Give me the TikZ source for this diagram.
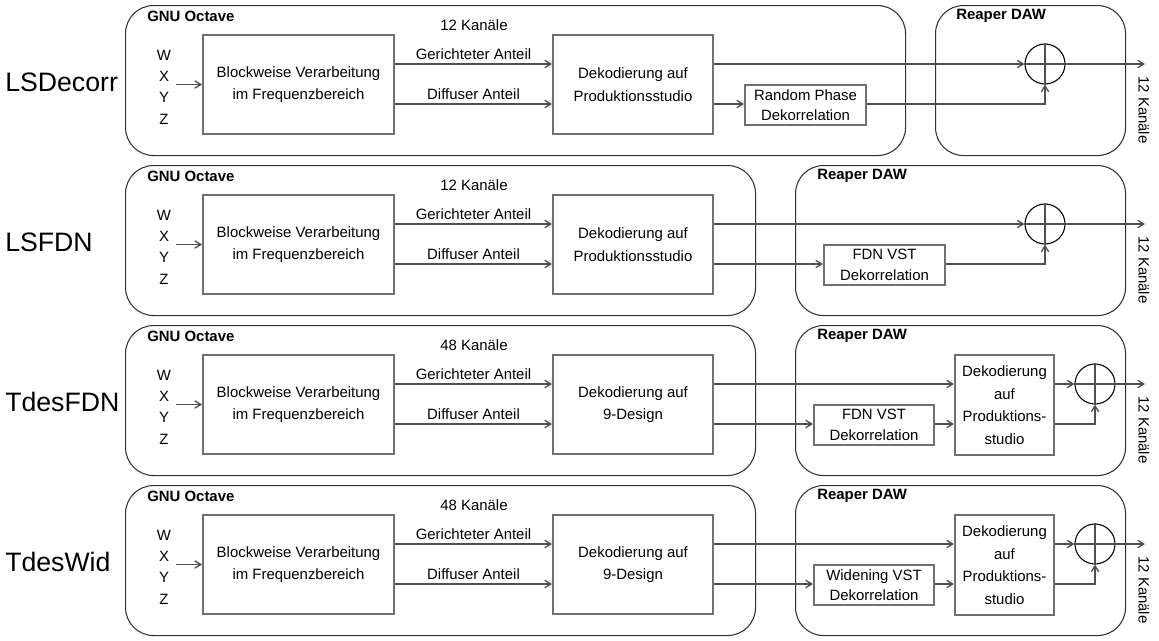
\documentclass[tikz,border=0pt]{standalone}
\usepackage{fontspec}
\setmainfont{Liberation Sans}
\usetikzlibrary{arrows.meta,shapes.geometric}
\definecolor{boxc}{HTML}{707070}
\definecolor{linec}{HTML}{505050}
\definecolor{contc}{HTML}{333333}
\newcommand{\pxu}{0.75pt}
\newcommand{\octavepart}[4]{%
  \coordinate (gy) at (0,64);
  \coordinate (dy) at (0,104);
  \node[rowlab] (lab) at (5,82) {#1};
  \node[cont, anchor=north west, minimum width={(#2-125)*\pxu}, minimum height=150*\pxu] (oct) at (125,5) {};
  \node[ttl] (octt) at (147,16) {GNU Octave};
  \node (ch) at (474,25) {#3};
  \node[align=center, font=\fontsize{11.2}{16}\selectfont] (wxyz) at (164,87) {W\\X\\Y\\Z};
  \node[blk, minimum width=191*\pxu, minimum height=99*\pxu] (blk) at (298.5,84.5) {Blockweise Verarbeitung\\im Frequenzbereich};
  \node[blk, minimum width=160*\pxu, minimum height=99*\pxu] (dek) at (633,84.5) {#4};
  \draw[arr] (wxyz.east |- blk) -- (blk.west);
  \draw[arr] (blk.east |- gy) -- node[lab, above] {Gerichteter Anteil} (dek.west |- gy);
  \draw[arr] (blk.east |- dy) -- node[lab, above] {Diffuser Anteil} (dek.west |- dy);
}
\begin{document}
\begin{tikzpicture}[x=0.75pt,y=-0.75pt,
  font=\fontsize{11.2}{13}\selectfont,
  cont/.style={draw=contc, line width=0.8pt, rounded corners=21pt, inner sep=0pt},
  blk/.style={draw=boxc, line width=1.5pt, align=center, inner sep=0pt, font=\fontsize{11.2}{17}\selectfont},
  small/.style={blk, font=\fontsize{11.2}{15.5}\selectfont},
  arr/.style={draw=linec, line width=1pt, -{Straight Barb[length=4.5pt,width=5.5pt]}},
  ln/.style={draw=linec, line width=1pt},
  sum/.style={draw=black, line width=0.8pt, circle, minimum size=40*0.75pt, inner sep=0pt},
  rowlab/.style={font=\fontsize{20}{24}\selectfont, anchor=west, inner sep=0pt},
  ttl/.style={font=\bfseries\fontsize{11.2}{13}\selectfont, anchor=west, inner sep=0pt},
  lab/.style={inner sep=2.5pt},
]
\useasboundingbox (0,0) rectangle (1159,640);

% Row 1: LSDecorr
\begin{scope}[name prefix=a-]
  \octavepart{LSDecorr}{905}{12 Kanäle}{Dekodierung auf\\Produktionsstudio}
  \node[cont, anchor=north west, minimum width=190*\pxu, minimum height=150*\pxu] (daw) at (935,5) {};
  \node[ttl] (dawt) at (956,16) {Reaper DAW};
  \node[small, minimum width=121*\pxu, minimum height=40*\pxu] (rp) at (805.5,105) {Random Phase\\Dekorrelation};
  \node[sum] (s) at (1045,64) {};
  \coordinate (out) at (1145,64);
  \draw[ln] (s.north) -- (s.south) (s.west) -- (s.east);
  \draw[arr] (dek.east |- gy) -- (s.west);
  \draw[arr] (s.east) -- (out);
  \draw[arr] (dek.east |- dy) -- (rp.west |- dy);
  \draw[arr] (rp.east |- dy) -| (s.south);
  \node[rotate=-90] (kout) at (1144,110) {12 Kanäle};
\end{scope}

% Row 2: LSFDN
\begin{scope}[shift={(0,160)}, name prefix=b-]
  \octavepart{LSFDN}{755}{12 Kanäle}{Dekodierung auf\\Produktionsstudio}
  \node[cont, anchor=north west, minimum width=330*\pxu, minimum height=150*\pxu] (daw) at (795,5) {};
  \node[ttl] (dawt) at (817,16) {Reaper DAW};
  \node[small, minimum width=121*\pxu, minimum height=40*\pxu] (fdn) at (884.5,105) {FDN VST\\Dekorrelation};
  \node[sum] (s) at (1045,64) {};
  \coordinate (out) at (1145,64);
  \draw[ln] (s.north) -- (s.south) (s.west) -- (s.east);
  \draw[arr] (dek.east |- gy) -- (s.west);
  \draw[arr] (s.east) -- (out);
  \draw[arr] (dek.east |- dy) -- (fdn.west |- dy);
  \draw[arr] (fdn.east |- dy) -| (s.south);
  \node[rotate=-90] (kout) at (1144,110) {12 Kanäle};
\end{scope}

% Row 3: TdesFDN
\begin{scope}[shift={(0,320)}, name prefix=c-]
  \octavepart{TdesFDN}{755}{48 Kanäle}{Dekodierung auf\\9-Design}
  \node[cont, anchor=north west, minimum width=330*\pxu, minimum height=150*\pxu] (daw) at (795,5) {};
  \node[ttl] (dawt) at (817,16) {Reaper DAW};
  \node[small, minimum width=120*\pxu, minimum height=40*\pxu] (fdn) at (874,105) {FDN VST\\Dekorrelation};
  \node[blk, minimum width=99*\pxu, minimum height=100*\pxu] (dek2) at (1004.5,85) {Dekodierung\\auf\\Produktions-\\studio};
  \node[sum] (s) at (1095,64) {};
  \coordinate (out) at (1145,64);
  \draw[ln] (s.north) -- (s.south) (s.west) -- (s.east);
  \draw[arr] (dek.east |- gy) -- (dek2.west |- gy);
  \draw[arr] (dek.east |- dy) -- (fdn.west |- dy);
  \draw[arr] (fdn.east |- dy) -- (dek2.west |- dy);
  \draw[arr] (dek2.east |- gy) -- (s.west);
  \draw[arr] (dek2.east |- dy) -| (s.south);
  \draw[arr] (s.east) -- (out);
  \node[rotate=-90] (kout) at (1144,110) {12 Kanäle};
\end{scope}

% Row 4: TdesWid
\begin{scope}[shift={(0,480)}, name prefix=d-]
  \octavepart{TdesWid}{755}{48 Kanäle}{Dekodierung auf\\9-Design}
  \node[cont, anchor=north west, minimum width=330*\pxu, minimum height=150*\pxu] (daw) at (795,5) {};
  \node[ttl] (dawt) at (817,16) {Reaper DAW};
  \node[small, minimum width=120*\pxu, minimum height=40*\pxu] (wid) at (874,105) {Widening VST\\Dekorrelation};
  \node[blk, minimum width=99*\pxu, minimum height=100*\pxu] (dek2) at (1004.5,85) {Dekodierung\\auf\\Produktions-\\studio};
  \node[sum] (s) at (1095,64) {};
  \coordinate (out) at (1145,64);
  \draw[ln] (s.north) -- (s.south) (s.west) -- (s.east);
  \draw[arr] (dek.east |- gy) -- (dek2.west |- gy);
  \draw[arr] (dek.east |- dy) -- (wid.west |- dy);
  \draw[arr] (wid.east |- dy) -- (dek2.west |- dy);
  \draw[arr] (dek2.east |- gy) -- (s.west);
  \draw[arr] (dek2.east |- dy) -| (s.south);
  \draw[arr] (s.east) -- (out);
  \node[rotate=-90] (kout) at (1144,110) {12 Kanäle};
\end{scope}
\end{tikzpicture}
\end{document}
